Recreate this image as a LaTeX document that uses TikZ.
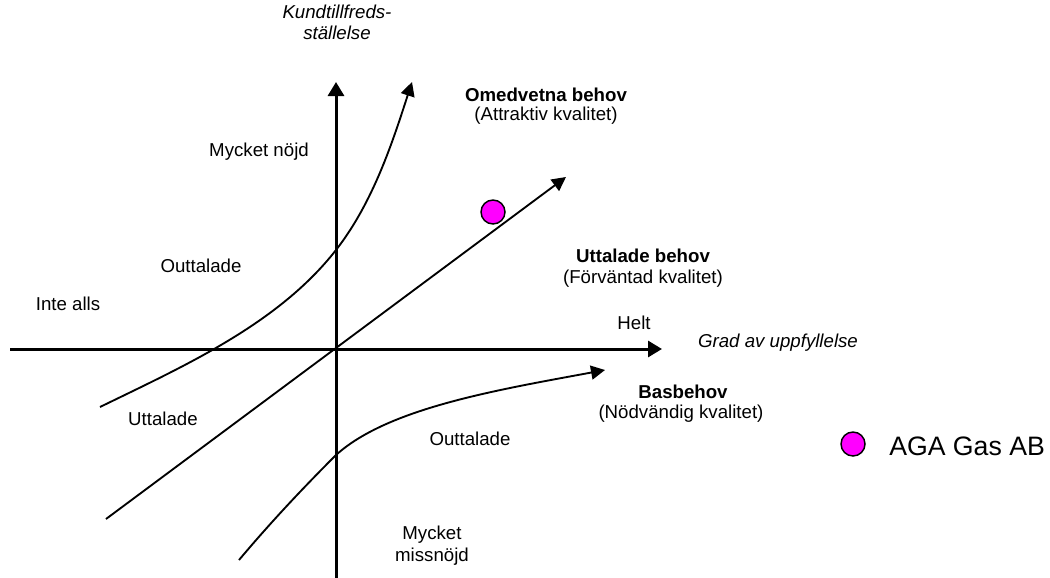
\documentclass[tikz,border=0pt]{standalone}
\usepackage{fontspec}
\setmainfont{Liberation Sans}
\usetikzlibrary{arrows.meta}
\definecolor{pointmagenta}{RGB}{255,0,255}

\begin{document}
\begin{tikzpicture}[x=0.75pt,y=-0.75pt,
  axis/.style={line width=2.25pt,-{Triangle[length=10.5pt,width=12pt]}},
  curve/.style={line width=1.4pt,-{Triangle[length=10.5pt,width=10.5pt]}},
  lbl/.style={anchor=base,inner sep=0pt,font=\fontsize{14}{16}\selectfont},
  ilbl/.style={lbl,font=\fontsize{14}{16}\selectfont\itshape},
  blbl/.style={lbl,font=\fontsize{14}{16}\selectfont\bfseries},
  dot/.style={circle,draw,line width=1.1pt,fill=pointmagenta,minimum size=18pt,inner sep=0pt},
]
\useasboundingbox (0,0) rectangle (1050,578);

% axes
\coordinate (o) at (336,349);
\coordinate (xl) at (10,349);
\coordinate (xr) at (662,349);
\coordinate (yb) at (336,578);
\coordinate (yt) at (336,82);
\draw[axis] (xl) -- (xr);
\draw[axis] (yb) -- (yt);

% expected needs: straight line through the origin
\coordinate (d0) at (106,519);
\coordinate (d1) at (566,177);
\draw[curve] (d0) -- (d1);

% unconscious needs: curve bending upwards
\coordinate (u0) at (100,407);
\coordinate (um) at (336,250);
\coordinate (u1) at (412,82);
\draw[curve] (u0) .. controls (184.5,365.8) and (278.1,324.1) .. (um)
                  .. controls (373.6,201.9) and (393.2,140) .. (u1);

% basic needs: curve levelling off
\coordinate (b0) at (239,560);
\coordinate (bm) at (336,455);
\coordinate (b1) at (605,370);
\draw[curve] (b0) .. controls (269.9,523.2) and (302.1,488.9) .. (bm)
                  .. controls (388,408) and (497,390) .. (b1);

% axis titles
\node[ilbl] (ytitle1) at (337,18.5) {Kundtillfreds-};
\node[ilbl] (ytitle2) at (337,39.5) {ställelse};
\node[ilbl] (xtitle) at (778,347) {Grad av uppfyllelse};

% curve labels
\node[blbl] (omed) at (546,101.5) {Omedvetna behov};
\node[lbl] (omedq) at (546,120.5) {(Attraktiv kvalitet)};
\node[blbl] (utt) at (643,262) {Uttalade behov};
\node[lbl] (uttq) at (643,283) {(Förväntad kvalitet)};
\node[blbl] (bas) at (683,398) {Basbehov};
\node[lbl] (basq) at (681,418) {(Nödvändig kvalitet)};

% region labels
\node[lbl] (mnojd) at (259,156) {Mycket nöjd};
\node[lbl] (outl) at (201,272) {Outtalade};
\node[lbl] (inte) at (68,310) {Inte alls};
\node[lbl] (helt) at (634,329) {Helt};
\node[lbl] (uttl) at (163,425) {Uttalade};
\node[lbl] (outr) at (470,445) {Outtalade};
\node[lbl] (miss1) at (432,539) {Mycket};
\node[lbl] (miss2) at (432,561) {missnöjd};

% company position and legend
\node[dot] (aga) at (493,212) {};
\node[dot] (legdot) at (853,444) {};
\node[anchor=base west,inner sep=0pt,font=\fontsize{20}{24}\selectfont] (legtxt) at (889,455) {AGA Gas AB};
\end{tikzpicture}
\end{document}
